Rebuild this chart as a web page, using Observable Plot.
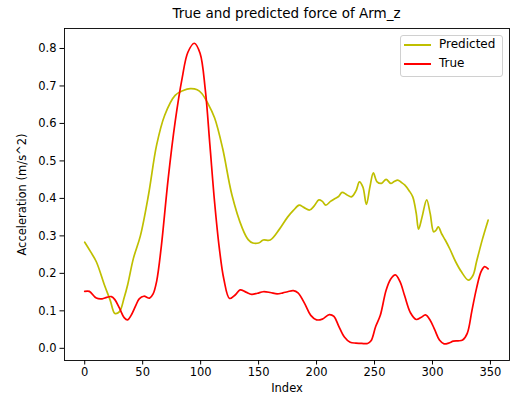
<!DOCTYPE html>
<html>
<head>
<meta charset="utf-8">
<script src="https://cdn.jsdelivr.net/npm/d3@7"></script>
<script src="https://cdn.jsdelivr.net/npm/@observablehq/plot@0.6"></script>
<style>
  body { margin: 0; background: #fff; font-family: "DejaVu Sans", sans-serif; }
  #wrap { position: relative; width: 515px; height: 399px; }
  #title { position: absolute; left: 64px; width: 445px; top: 5px; text-align: center; font-size: 13.5px; color: #000; }
  #chart { position: absolute; left: 0; top: 22px; }
  #legend { position: absolute; left: 400px; top: 35px; width: 101px; height: 40px; border: 1px solid #d0d0d0; border-radius: 3px; background: rgba(255,255,255,0.8); font-size: 12px; }
  .item { position: absolute; left: 0; height: 14px; }
  .sw { position: absolute; left: 3px; top: -1px; width: 27px; height: 2px; }
  .lab { position: absolute; left: 38px; top: -8px; white-space: nowrap; color: #000; }
</style>
</head>
<body>
<div id="wrap">
  <div id="title">True and predicted force of Arm_z</div>
  <div id="chart"></div>
  <div id="legend"></div>
</div>
<script>
const seriesNames = ["Predicted", "True"];
const seriesColors = ["#bfbf00", "#ff0000"];

const predIndex = [0,5,10,17,22,26,30,34,37,42,
  48,55,62,69,78,85,91,97,101,106,
  112,119,127,136,141,145,150,154,160,168,
  175,180,185,189,194,198,202,205,208,212,
  215,219,222,226,230,234,237,240,243,246,
  249,252,256,260,264,267,270,273,276,280,
  283,286,288,291,295,298,301,303,305,308,
  311,315,320,325,331,335,338,343,348];
const predValue = [0.283,0.258,0.231,0.169,0.128,0.093,0.098,0.135,0.169,0.240,
  0.300,0.409,0.542,0.622,0.675,0.688,0.693,0.690,0.680,0.655,
  0.615,0.533,0.409,0.320,0.290,0.281,0.281,0.289,0.289,0.318,
  0.350,0.368,0.382,0.376,0.369,0.380,0.396,0.392,0.382,0.392,
  0.398,0.405,0.416,0.410,0.404,0.420,0.444,0.430,0.384,0.430,
  0.468,0.445,0.440,0.451,0.440,0.445,0.449,0.443,0.436,0.420,
  0.404,0.360,0.318,0.350,0.396,0.360,0.311,0.315,0.324,0.305,
  0.289,0.265,0.231,0.204,0.182,0.195,0.231,0.290,0.342];

const trueIndex = [0,4,10,15,19,23,26,30,34,37,
  40,44,47,51,56,59,62,66,72,78,
  84,89,94.6,99.5,104,108,112,116,120,125,
  130,134,139,144,149,154,160,166,171,175,
  180,184,190,195,200,205,211,215,219,224,
  229,234,239,244,247,251,255,260,264,268,
  272,276,281,286,290,294,298,302,306,310,
  314,318,322,326,330,334,338,342,345,348];
const trueValue = [0.152,0.152,0.134,0.132,0.136,0.138,0.130,0.107,0.082,0.076,
  0.088,0.114,0.132,0.139,0.134,0.145,0.178,0.270,0.453,0.604,
  0.720,0.790,0.814,0.787,0.690,0.542,0.391,0.270,0.185,0.133,
  0.143,0.156,0.150,0.144,0.147,0.151,0.149,0.145,0.148,0.151,
  0.154,0.148,0.118,0.088,0.076,0.078,0.090,0.085,0.060,0.030,
  0.016,0.014,0.013,0.013,0.020,0.058,0.088,0.155,0.185,0.196,
  0.178,0.140,0.095,0.077,0.082,0.089,0.075,0.049,0.022,0.012,
  0.014,0.019,0.020,0.022,0.040,0.100,0.160,0.205,0.218,0.212];

const xTicks = [0,50,100,150,200,250,300,350];
const yTicks = [0,0.1,0.2,0.3,0.4,0.5,0.6,0.7,0.8];

const pred = predIndex.map((x, i) => ({x, y: predValue[i]}));
const tru = trueIndex.map((x, i) => ({x, y: trueValue[i]}));

const chart = Plot.plot({
  width: 515,
  height: 377,
  marginTop: 6,
  marginBottom: 39,
  marginLeft: 64,
  marginRight: 6,
  style: {fontFamily: "DejaVu Sans, sans-serif", fontSize: "11.5px", color: "#000", background: "#fff"},
  x: {domain: [-17.45, 366.45]},
  y: {domain: [-0.0325, 0.8533]},
  marks: [
    Plot.axisX({ticks: xTicks, tickSize: 4.5, tickPadding: 3, tickFormat: d => String(d), label: "Index", labelAnchor: "center", labelArrow: "none", labelOffset: 31, fontSize: 11.5}),
    Plot.axisY({ticks: yTicks, tickSize: 4.5, tickPadding: 3.5, tickFormat: d => d.toFixed(1), label: "Acceleration (m/s^2)", labelAnchor: "center", labelArrow: "none", labelOffset: 47, fontSize: 11.5}),
    Plot.line(pred, {x: "x", y: "y", stroke: seriesColors[0], strokeWidth: 1.7, curve: "catmull-rom"}),
    Plot.line(tru, {x: "x", y: "y", stroke: seriesColors[1], strokeWidth: 1.7, curve: "catmull-rom"}),
    Plot.frame({stroke: "#000", strokeWidth: 0.9})
  ]
});
document.getElementById("chart").appendChild(chart);

const legend = document.getElementById("legend");
seriesNames.forEach((n, i) => {
  const it = document.createElement("div");
  it.className = "item";
  it.style.top = (9 + i * 18.7) + "px";
  it.innerHTML = `<div class="sw" style="background:${seriesColors[i]}"></div><div class="lab">${n}</div>`;
  legend.appendChild(it);
});
</script>
</body>
</html>
